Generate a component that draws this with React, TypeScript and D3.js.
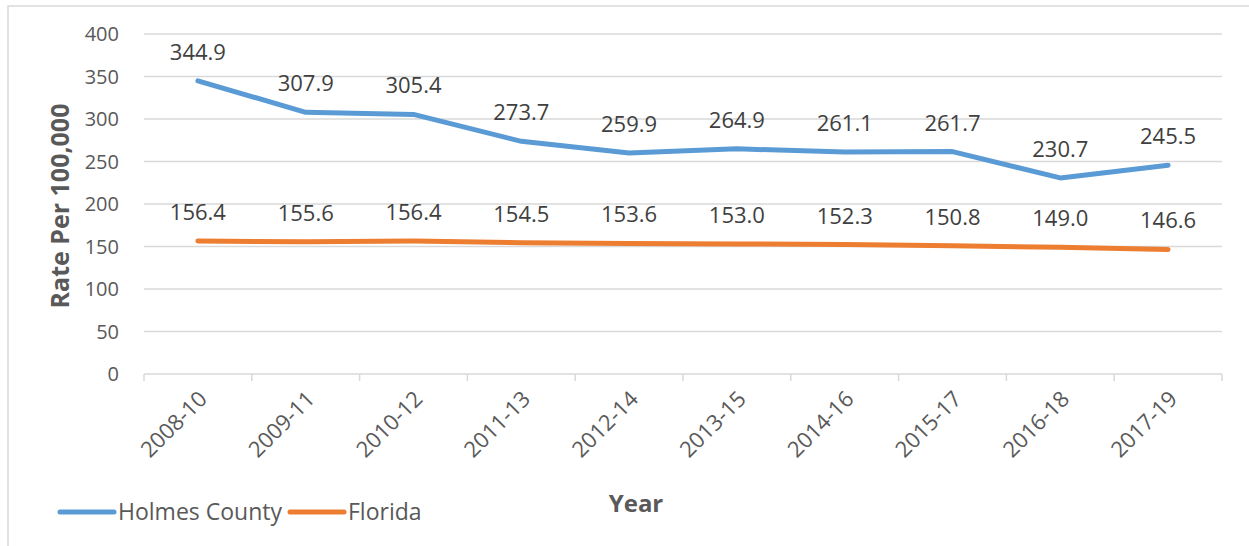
import React, { useEffect, useRef } from 'react';
import * as d3 from 'd3';

const years = ['2008-10', '2009-11', '2010-12', '2011-13', '2012-14', '2013-15', '2014-16', '2015-17', '2016-18', '2017-19'];
const holmes = [344.9, 307.9, 305.4, 273.7, 259.9, 264.9, 261.1, 261.7, 230.7, 245.5];
const florida = [156.4, 155.6, 156.4, 154.5, 153.6, 153.0, 152.3, 150.8, 149.0, 146.6];
const yTicks = [0, 50, 100, 150, 200, 250, 300, 350, 400];

const series = [
  { name: 'Holmes County', values: holmes, color: '#5B9BD5' },
  { name: 'Florida', values: florida, color: '#ED7D31' },
];

const FONT = '"Open Sans", "Liberation Sans", sans-serif';

const App: React.FC = () => {
  const svgRef = useRef<SVGSVGElement>(null);
  const width = 1249;
  const height = 546;

  useEffect(() => {
    if (!svgRef.current) return;
    const svg = d3.select(svgRef.current);
    svg.selectAll('*').remove();

    const left = 144, right = 1222, top = 34, bottom = 374;

    const x = d3.scaleBand().domain(years).range([left, right]);
    const y = d3.scaleLinear().domain([0, 400]).range([bottom, top]);
    const cx = (d: string) => (x(d) as number) + x.bandwidth() / 2;

    // outer border
    svg.append('path')
      .attr('d', `M8,${height + 2} V6 H${width + 2}`)
      .attr('fill', 'none')
      .attr('stroke', '#d9d9d9')
      .attr('stroke-width', 1.5);

    // gridlines
    svg.append('g')
      .selectAll('line')
      .data(yTicks.filter(t => t > 0))
      .enter()
      .append('line')
      .attr('x1', left)
      .attr('x2', right)
      .attr('y1', d => y(d))
      .attr('y2', d => y(d))
      .attr('stroke', '#d9d9d9')
      .attr('stroke-width', 1.5);

    // y tick labels
    svg.append('g')
      .selectAll('text')
      .data(yTicks)
      .enter()
      .append('text')
      .attr('x', left - 25)
      .attr('y', d => y(d))
      .attr('dy', '0.35em')
      .attr('text-anchor', 'end')
      .attr('font-family', FONT)
      .attr('font-size', 20)
      .attr('fill', '#595959')
      .text(d => d);

    // x axis
    const xAxis = svg.append('g');
    xAxis.append('line')
      .attr('x1', left).attr('x2', right)
      .attr('y1', bottom).attr('y2', bottom)
      .attr('stroke', '#d9d9d9').attr('stroke-width', 1.5);
    const bounds = years.map(d => x(d) as number).concat([right]);
    xAxis.selectAll('line.tick')
      .data(bounds)
      .enter()
      .append('line')
      .attr('class', 'tick')
      .attr('x1', d => d).attr('x2', d => d)
      .attr('y1', bottom).attr('y2', bottom + 7)
      .attr('stroke', '#d9d9d9').attr('stroke-width', 1.5);
    xAxis.selectAll('text')
      .data(years)
      .enter()
      .append('text')
      .attr('transform', d => `translate(${cx(d) + 5},${bottom + 21}) rotate(-45)`)
      .attr('text-anchor', 'end')
      .attr('dy', '0.35em')
      .attr('font-family', FONT)
      .attr('font-size', 22)
      .attr('fill', '#595959')
      .text(d => d);

    // lines + labels
    const line = d3.line<number>()
      .x((_, i) => cx(years[i]))
      .y(d => y(d));

    series.forEach(s => {
      svg.append('path')
        .datum(s.values)
        .attr('d', line)
        .attr('fill', 'none')
        .attr('stroke', s.color)
        .attr('stroke-width', 5)
        .attr('stroke-linejoin', 'round')
        .attr('stroke-linecap', 'round');

      svg.append('g')
        .selectAll('text')
        .data(s.values)
        .enter()
        .append('text')
        .attr('x', (_, i) => cx(years[i]))
        .attr('y', d => y(d) - 21)
        .attr('text-anchor', 'middle')
        .attr('font-family', FONT)
        .attr('font-size', 22)
        .attr('fill', '#404040')
        .text(d => d.toFixed(1));
    });

    // axis titles
    svg.append('text')
      .attr('transform', `translate(69,${(top + bottom) / 2 + 2}) rotate(-90)`)
      .attr('text-anchor', 'middle')
      .attr('font-family', FONT)
      .attr('font-size', 25)
      .attr('font-weight', 'bold')
      .attr('fill', '#595959')
      .text('Rate Per 100,000');

    svg.append('text')
      .attr('x', 636)
      .attr('y', 512)
      .attr('text-anchor', 'middle')
      .attr('font-family', FONT)
      .attr('font-size', 24)
      .attr('font-weight', 'bold')
      .attr('fill', '#595959')
      .text('Year');

    // legend
    const legendX = [60, 290];
    const legend = svg.append('g');
    series.forEach((s, i) => {
      const lx = legendX[i];
      legend.append('line')
        .attr('x1', lx).attr('x2', lx + 54)
        .attr('y1', 512).attr('y2', 512)
        .attr('stroke', s.color)
        .attr('stroke-width', 5)
        .attr('stroke-linecap', 'round');
      legend.append('text')
        .attr('x', lx + 58)
        .attr('y', 512)
        .attr('dy', '0.35em')
        .attr('font-family', FONT)
        .attr('font-size', 23)
        .attr('fill', '#595959')
        .text(s.name);
    });
  }, []);

  return (
    <svg
      ref={svgRef}
      width={width}
      height={height}
      style={{ position: 'absolute', left: 0, top: 0, background: '#fff' }}
    />
  );
};

export default App;
